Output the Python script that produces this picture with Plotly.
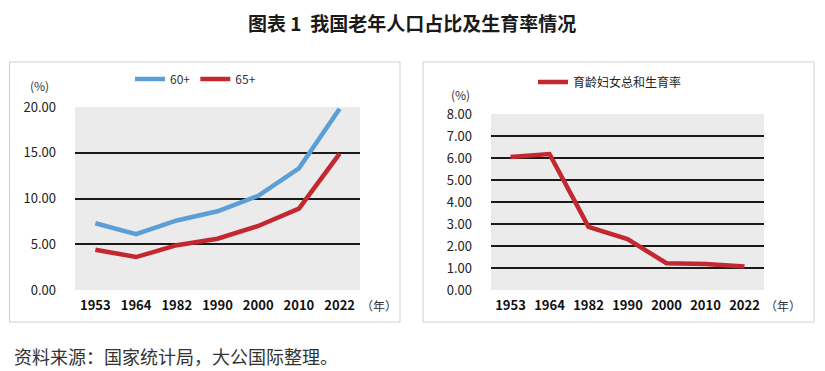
import plotly.graph_objects as go

# Target screen size; the page body has an 8px default margin, so the figure is offset by 8px.
SW, SH, OFF = 825, 371, 8
W, H = SW - OFF, SH - OFF

years = ["1953", "1964", "1982", "1990", "2000", "2010", "2022"]
aged60 = [7.3, 6.1, 7.6, 8.6, 10.3, 13.3, 19.8]
aged65 = [4.4, 3.6, 4.9, 5.6, 7.0, 8.9, 14.9]
fertility = [6.05, 6.18, 2.87, 2.31, 1.22, 1.18, 1.07]
left_ticks = [0, 5, 10, 15, 20]
right_ticks = [0, 1, 2, 3, 4, 5, 6, 7, 8]

FONT = "Noto Sans CJK SC"
BLUE = "#5b9fd6"
RED = "#c3272f"
GRID = "#1a1a1a"
BG = "#ebebeb"

def px(x):
    return (x - OFF) / W

def py(y):
    return 1 - (y - OFF) / H

fig = go.Figure()
fig.add_trace(go.Scatter(x=years, y=aged60, mode="lines", name="60+",
                         line=dict(color=BLUE, width=4.5), xaxis="x", yaxis="y", legend="legend"))
fig.add_trace(go.Scatter(x=years, y=aged65, mode="lines", name="65+",
                         line=dict(color=RED, width=4.5), xaxis="x", yaxis="y", legend="legend"))
fig.add_trace(go.Scatter(x=years, y=fertility, mode="lines", name="育龄妇女总和生育率",
                         line=dict(color=RED, width=4.5), xaxis="x2", yaxis="y2", legend="legend2"))

xcommon = dict(type="category", showgrid=False, zeroline=False, showline=False, ticks="",
               automargin=False, range=[-0.5, len(years) - 0.5],
               tickfont=dict(family=FONT, size=13, color="#111", weight="bold"),
               ticklabelstandoff=6)
ycommon = dict(showgrid=True, gridcolor=GRID, gridwidth=1.5, zeroline=False, showline=False,
               automargin=False,
               ticks="", tickformat=".2f", tickfont=dict(family=FONT, size=13, color="#222"),
               ticklabelstandoff=18)

fig.update_layout(
    width=W, height=H,
    margin=dict(l=0, r=0, t=0, b=0, autoexpand=False),
    paper_bgcolor="white",
    plot_bgcolor=BG,
    font=dict(family=FONT, color="#222"),
    showlegend=True,
    xaxis=dict(domain=[px(75), px(360)], anchor="y", **xcommon),
    yaxis=dict(domain=[py(290), py(107)], anchor="x", range=[0, 20], tickvals=left_ticks, **ycommon),
    xaxis2=dict(domain=[px(491), px(764)], anchor="y2", **xcommon),
    yaxis2=dict(domain=[py(290), py(114)], anchor="x2", range=[0, 8], tickvals=right_ticks, **ycommon),
    legend=dict(orientation="h", x=px(130), y=py(79), xanchor="left", yanchor="middle",
                font=dict(family=FONT, size=12, color="#333"), bgcolor="rgba(0,0,0,0)"),
    legend2=dict(orientation="h", x=px(533), y=py(82), xanchor="left", yanchor="middle",
                 font=dict(family=FONT, size=12, color="#222"), bgcolor="rgba(0,0,0,0)"),
    shapes=[
        dict(type="rect", xref="paper", yref="paper", x0=px(9.5), x1=px(400), y0=py(322), y1=py(62),
             line=dict(color="#cfcfcf", width=1), layer="below"),
        dict(type="rect", xref="paper", yref="paper", x0=px(423), x1=px(814), y0=py(322), y1=py(62),
             line=dict(color="#cfcfcf", width=1), layer="below"),
    ],
    annotations=[
        dict(text="<b>图表 1  我国老年人口占比及生育率情况</b>", x=px(412), y=py(8), xref="paper", yref="paper",
             showarrow=False, xanchor="center", yanchor="top", borderpad=0,
             font=dict(family=FONT, size=19, color="#1a1a1a")),
        dict(text="(%)", x=px(40), y=py(86), xref="paper", yref="paper", showarrow=False,
             xanchor="center", yanchor="middle", font=dict(family=FONT, size=12, color="#333")),
        dict(text="(%)", x=px(460), y=py(95), xref="paper", yref="paper", showarrow=False,
             xanchor="center", yanchor="middle", font=dict(family=FONT, size=12, color="#333")),
        dict(text="（年）", x=px(359), y=py(305), xref="paper", yref="paper", showarrow=False,
             xanchor="left", yanchor="middle", font=dict(family=FONT, size=12, color="#333")),
        dict(text="（年）", x=px(763), y=py(305), xref="paper", yref="paper", showarrow=False,
             xanchor="left", yanchor="middle", font=dict(family=FONT, size=12, color="#333")),
        dict(text="资料来源：国家统计局，大公国际整理。", x=px(12), y=py(356), xref="paper", yref="paper",
             showarrow=False, xanchor="left", yanchor="middle",
             font=dict(family=FONT, size=18, color="#333")),
    ],
)

fig.write_html("out.html")
